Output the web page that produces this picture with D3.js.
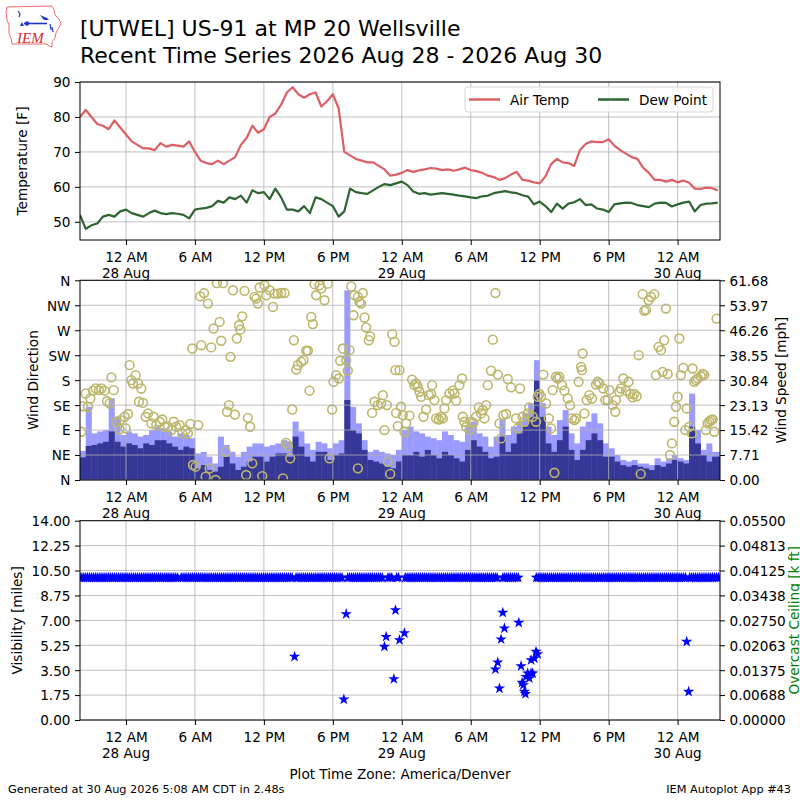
<!DOCTYPE html>
<html>
<head>
<meta charset="utf-8">
<script src="https://cdn.jsdelivr.net/npm/d3@7"></script>
<style>
  body { margin: 0; background: #fff; }
  svg { font-family: "DejaVu Sans", sans-serif; }
</style>
</head>
<body>
<svg id="chart" width="800" height="800"></svg>
<script>
// time is in hours after 27 Aug 2026 8:00 PM (America/Denver)
const spanHours = 55.69;
const obsStep = 0.5;

const tickHours = [4, 10, 16, 22, 28, 34, 40, 46, 52];
const tickLabels = ["12 AM", "6 AM", "12 PM", "6 PM", "12 AM", "6 AM", "12 PM", "6 PM", "12 AM"];
const dateHours = [4, 28, 52];
const dateLabels = ["28 Aug", "29 Aug", "30 Aug"];

// half-hourly temperatures [F]
const airTemp = [80, 82, 80, 78, 77.5, 76.5, 79, 77, 75, 73,
  72, 71, 71, 70.5, 72.5, 71.5, 72, 71.8, 71.5, 73,
  70, 67.5, 66.8, 66.5, 67.5, 66.5, 67.5, 68.5, 72, 74,
  77.5, 75.5, 76.5, 80, 81, 83.5, 87, 88.5, 86.5, 85.5,
  86.5, 87, 83, 84.5, 86.5, 82.5, 70, 69, 68, 67.5,
  67, 67, 66, 65, 63.2, 63.5, 64, 64.8, 64.3, 64.7,
  65, 65.4, 65.2, 64.8, 65, 64.6, 65, 65.5, 64.8, 64.5,
  64, 63.2, 62.8, 62, 62.5, 63.5, 64.3, 62, 61.8, 61.3,
  61, 63, 66.5, 68, 67, 66.8, 66, 70.5, 72.3, 73,
  72.8, 72.8, 73.6, 71.8, 70.5, 69.5, 68.5, 68, 65.5, 64,
  62, 62, 61.5, 62, 61.3, 61.8, 61.2, 59.5, 59.4, 59.8,
  59.6, 59];
const dewPoint = [52, 48, 49, 49.5, 51.5, 52, 51.5, 53, 53.5, 52.5,
  52, 51.5, 52.5, 53.2, 52.5, 52.2, 52.5, 52.3, 52, 51,
  53.5, 53.8, 54, 54.5, 56, 55.5, 57, 56.5, 57.5, 55.5,
  59, 58.2, 58.5, 56.5, 59.5, 57, 53.5, 53.5, 53, 54.5,
  52.5, 57, 56.5, 55.5, 54.5, 51.5, 53, 59.5, 58.5, 58.2,
  58, 59, 60, 60.8, 60.5, 61, 61.5, 60.5, 58.7, 58,
  58.2, 57.8, 58, 58.2, 58, 57.8, 57.5, 57.3, 57, 56.8,
  57.3, 57.5, 58.2, 58.5, 58.8, 58.4, 58.2, 57.6, 57.2, 55,
  55.8, 54.5, 52.8, 55.2, 53.8, 55.2, 55.6, 56.5, 54.8, 55,
  53.8, 53.5, 52.8, 55, 55.3, 55.5, 55.4, 54.8, 54.5, 54.2,
  55.2, 55.5, 55.4, 54.4, 55, 55.5, 55.8, 53, 54.8, 55.2,
  55.3, 55.5];

// half-hourly wind speed and gust [mph]
const windSpeed = [7, 10.5, 10.8, 11.3, 11.8, 15, 11.8, 10.3, 11.3, 10.8,
  9.8, 11.3, 10.8, 12.3, 12.3, 11.3, 10.3, 9.3, 10.3, 9.8,
  3.6, 4.6, 3.1, 2.6, 4.1, 7.2, 5.1, 3.1, 4.1, 5.7,
  7.2, 7.2, 5.7, 7.2, 8.2, 8.2, 7.2, 13.4, 10.3, 7.2,
  5.7, 8.7, 8.7, 6.2, 7.7, 8.2, 24.7, 15.4, 14.4, 9.3,
  6.2, 5.7, 5.1, 4.1, 3.6, 5.7, 7.7, 7.7, 8.7, 7.2,
  9.3, 7.7, 6.7, 8.7, 7.7, 6.7, 5.7, 9.3, 12.3, 10.3,
  8.7, 6.7, 7.2, 13.4, 8.7, 11.3, 14.4, 16.5, 19.5, 30.9,
  19.5, 11.3, 8.7, 12.3, 16.5, 9.3, 6.2, 9.3, 12.3, 14.4,
  12.3, 7.2, 7.2, 5.7, 4.6, 4.1, 4.6, 4.1, 3.6, 3.1,
  4.6, 4.1, 5.1, 6.2, 5.7, 5.1, 16.5, 11.3, 7.7, 5.7,
  7.2, 7.2];
const windGust = [9, 22.6, 14.4, 15, 15.4, 25.2, 19.5, 13.9, 15, 14.4,
  13.4, 13.9, 15.4, 16.5, 16, 15, 13.4, 14.4, 13.9, 12.9,
  8.2, 8.7, 7.2, 5.1, 13.4, 10.8, 8.7, 7.2, 8.7, 10.3,
  11.3, 11.3, 10.3, 10.8, 11.3, 12.3, 11.8, 18, 15, 11.3,
  9.3, 11.8, 11.3, 9.8, 11.3, 12.3, 58.6, 22.6, 17.5, 12.3,
  8.7, 9.3, 8.7, 8.2, 7.7, 9.3, 15.4, 16.5, 15, 14.4,
  13.4, 12.9, 12.3, 15, 13.9, 12.3, 11.8, 16.5, 18, 14.4,
  13.4, 10.3, 13.4, 18.5, 13.9, 16.5, 18, 20.6, 23.7, 37,
  23.7, 16.5, 13.9, 18.5, 21.6, 14.4, 11.3, 16.5, 18, 20.6,
  17.5, 11.3, 9.8, 7.7, 6.2, 5.7, 6.2, 5.1, 5.1, 4.6,
  6.7, 5.7, 6.7, 7.7, 6.7, 6.2, 26.7, 15.4, 9.3, 11.3,
  8.7, 8.7];

// wind direction observations: hour, degrees
const dirHours = [0.12, 0.26, 0.5, 0.7, 0.9, 1.13, 1.37, 1.65, 1.86, 2.15,
  2.35, 2.58, 2.73, 2.93, 3.16, 3.45, 3.51, 3.89, 4.18, 3.97,
  4.32, 4.47, 4.61, 4.84, 5.05, 5.33, 5.13, 5.48, 5.71, 5.92,
  6.21, 6.41, 6.64, 6.93, 7.16, 7.36, 7.65, 7.94, 8.15, 8.38,
  8.67, 8.9, 9.19, 9.39, 9.6, 9.83, 10.06, 10.29, 9.77, 10.55,
  10.47, 10.79, 11.13, 10.93, 11.28, 11.8, 11.42, 11.62, 11.91, 12.15,
  12.29, 12.44, 12.67, 12.96, 12.79, 13.1, 13.31, 13.48, 13.65, 13.83,
  13.95, 14.12, 14.32, 14.46, 14.61, 14.81, 14.99, 15.19, 15.34, 15.48,
  15.63, 15.86, 16.06, 16.2, 16.5, 16.79, 16.93, 17.22, 17.51, 17.8,
  17.66, 17.94, 18.09, 18.29, 18.47, 18.61, 18.82, 18.96, 19.25, 19.45,
  19.68, 19.83, 19.97, 20.12, 20.26, 20.41, 20.55, 20.84, 20.99, 21.28,
  21.57, 21.71, 21.94, 22.06, 22.29, 22.52, 22.64, 22.87, 23.16, 23.3,
  23.45, 23.6, 23.8, 23.89, 24.18, 24.32, 24.61, 24.46, 24.18, 24.76,
  24.9, 25.13, 25.25, 25.42, 25.63, 25.92, 26.2, 26.35, 26.49, 26.7,
  26.78, 26.99, 27.16, 27.37, 27.45, 27.51, 27.65,
  27.8, 27.94, 28.09, 28.23, 28.38, 28.67, 28.9, 29.1, 29.25, 29.39,
  29.54, 29.68, 29.89, 30.12, 30.35, 30.55, 30.64, 30.84, 30.99, 31.22,
  31.42, 31.57, 31.71, 31.86, 32.15, 32.44, 32.58, 32.73, 33.02, 33.25,
  33.31, 33.45, 33.6, 33.89, 34.03, 34.23, 34.47, 34.7, 34.9, 35.05,
  35.19, 35.34, 35.48, 35.77, 35.92, 36.15, 36.35, 36.5, 36.64, 36.84,
  37.08, 37.22, 37.51, 37.94, 38.09, 38.29, 38.52, 38.67, 38.96, 39.1,
  39.39, 39.68, 39.83, 39.97, 40.12, 40.32, 40.55, 40.79, 40.99, 41.13,
  41.28, 41.42, 41.57, 41.71, 41.94, 42.15, 42.44, 42.64, 42.81, 43.02,
  43.16, 43.39, 43.6, 43.68, 43.74, 43.89, 44.09, 44.32, 44.55, 44.9,
  45.05, 45.19, 45.54, 45.71, 45.92, 46.06, 46.35, 46.58, 46.64, 46.93,
  47.07, 47.28, 47.51, 47.74, 47.86, 48.09, 48.23, 48.44, 48.61, 48.79,
  48.96, 49.1, 49.25, 49.48, 49.68, 49.97, 50.12, 50.35, 50.55, 50.7,
  50.84, 50.99, 51.13, 51.34, 51.51, 51.71, 51.86, 52.0, 52.15, 52.29,
  52.5, 52.67, 52.79, 53.02, 53.25, 53.31, 53.45, 53.6, 53.74, 54.03,
  54.18, 54.32, 54.47, 54.61, 54.76, 54.9, 55.05, 55.19, 55.39];
const dirDeg = [87, 133, 156, 132, 147, 161, 165, 162, 165, 161,
  142, 138, 185, 162, 105, 91, 108, 114, 119, 93,
  207, 180, 174, 189, 174, 165, 141, 139, 114, 120,
  102, 114, 99, 105, 109, 96, 96, 90, 105, 96,
  99, 84, 90, 84, 101, 27, 24, 99, 237, 243,
  331, 337, 318, 6, 21, 0, 239, 273, 355, 285,
  251, 355, 51, 135, 123, 222, 342, 118, 255, 279,
  271, 295, 341, 9, 112, 96, 30, 330, 327, 318,
  347, 7, 351, 333, 342, 312, 336, 336, 337, 337,
  3, 67, 61, 39, 127, 252, 199, 207, 213, 216,
  233, 233, 161, 294, 281, 353, 333, 351, 345, 324,
  354, 39, 127, 177, 189, 183, 215, 237, 216, 197,
  234, 349, 297, 333, 330, 321, 337, 318, 21, 293,
  275, 252, 259, 121, 141, 135, 138, 153, 90, 135,
  33, 11, 263, 249, 198, 121, 97,
  198, 132, 117, 87, 102, 116, 181, 171, 174, 168,
  159, 150, 114, 127, 153, 155, 171, 144, 111, 109,
  114, 111, 129, 144, 156, 161, 156, 143, 171, 183,
  114, 105, 96, 90, 105, 103, 114, 131, 120, 126,
  111, 135, 171, 197, 253, 337, 190, 102, 75, 117,
  119, 182, 167, 111, 93, 165, 114, 105, 120, 131,
  114, 105, 150, 155, 150, 190, 138, 111, 93, 162,
  13, 186, 183, 186, 171, 161, 147, 135, 111, 108,
  111, 177, 204, 198, 228, 120, 144, 153, 147, 172,
  177, 174, 165, 144, 144, 162, 135, 123, 144, 159,
  165, 183, 161, 177, 155, 149, 155, 151, 225, 11,
  335, 305, 307, 324, 330, 335, 189, 240, 234, 195,
  252, 309, 191, 45, 66, 105, 132, 150, 255, 189,
  202, 90, 129, 96, 84, 201, 177, 180, 183, 187,
  191, 189, 90, 102, 105, 108, 109, 87, 291];

// visibility: periods reporting 10 miles, plus the lower reports
const visTenSpans = [[0, 8.6], [8.8, 18.6], [18.8, 22.9], [23.3, 26.4], [26.8, 27.25],
  [27.55, 27.75], [28.3, 36.3], [36.8, 38.15], [39.7, 52.75], [53.05, 55.67]];
const visHours = [18.67, 23.16, 22.96, 26.64, 26.49, 27.45, 27.31, 27.8, 28.23,
  36.79, 36.93, 36.64, 36.35, 36.15, 36.5, 38.18, 38.38, 38.47, 38.58,
  38.67, 38.76, 38.81, 39.1, 38.96, 39.25, 39.39, 39.25, 39.54, 39.68,
  39.83, 52.79, 52.96];
const visMiles = [4.45, 7.44, 1.45, 5.85, 5.15, 7.72, 2.88, 5.62, 6.1,
  7.54, 6.44, 5.67, 4.05, 3.56, 2.22, 6.84, 3.79, 2.62, 2.46,
  1.99, 1.83, 3.04, 2.93, 3.28, 3.28, 3.28, 4.21, 4.33, 4.8,
  4.63, 5.5, 1.99];

const dirTicks = [0, 45, 90, 135, 180, 225, 270, 315, 360];
const dirTickLabels = ["N", "NE", "E", "SE", "S", "SW", "W", "NW", "N"];
const speedTicks = [0, 7.71, 15.42, 23.13, 30.84, 38.55, 46.26, 53.97, 61.68];
const visTicks = [0, 1.75, 3.5, 5.25, 7, 8.75, 10.5, 12.25, 14];
const ceilTicks = [0, 0.00688, 0.01375, 0.02063, 0.0275, 0.03438, 0.04125, 0.04813, 0.055];

const svg = d3.select("#chart");
const fontSize = 13.6;
const L = 80, R = 720;
const x = d3.scaleLinear().domain([0, spanHours]).range([L, R]);
const gridColor = "#b0b0b0";

const p1 = { top: 82, bottom: 240 };
const p2 = { top: 280.3, bottom: 480 };
const p3 = { top: 520.7, bottom: 720 };

const yTemp = d3.scaleLinear().domain([44.8, 90]).range([p1.bottom, p1.top]);
const yDir = d3.scaleLinear().domain([0, 360]).range([p2.bottom, p2.top]);
const ySpeed = d3.scaleLinear().domain([0, 61.68]).range([p2.bottom, p2.top]);
const yVis = d3.scaleLinear().domain([0, 14]).range([p3.bottom, p3.top]);
const yCeil = d3.scaleLinear().domain([0, 0.055]).range([p3.bottom, p3.top]);

// clip paths
const defs = svg.append("defs");
[p1, p2, p3].forEach((p, i) => {
  defs.append("clipPath").attr("id", "clip" + i)
    .append("rect").attr("x", L).attr("y", p.top)
    .attr("width", R - L).attr("height", p.bottom - p.top);
});

function grid(p, yScale, yVals) {
  const g = svg.append("g").attr("stroke", gridColor).attr("stroke-width", 0.8);
  g.selectAll(".gx").data(tickHours).enter().append("line")
    .attr("x1", d => x(d)).attr("x2", d => x(d))
    .attr("y1", p.top).attr("y2", p.bottom);
  g.selectAll(".gy").data(yVals).enter().append("line")
    .attr("x1", L).attr("x2", R)
    .attr("y1", d => yScale(d)).attr("y2", d => yScale(d));
}

function styleAxis(g) {
  g.attr("font-family", null).attr("font-size", null)
    .style("font-size", fontSize + "px");
  g.select(".domain").remove();
  g.selectAll("line").attr("stroke", "#000");
  g.selectAll("text").attr("fill", "#000");
}

function xAxis(p) {
  const g = svg.append("g").attr("transform", `translate(0,${p.bottom})`)
    .call(d3.axisBottom(x).tickValues(tickHours).tickSize(5)
      .tickFormat((d, i) => tickLabels[i]));
  styleAxis(g);
  g.selectAll("text").attr("y", 22).attr("dy", null);
  g.selectAll(".dlab").data(dateHours).enter().append("text")
    .attr("x", d => x(d)).attr("y", 38).attr("text-anchor", "middle")
    .attr("fill", "#000").text((d, i) => dateLabels[i]);
}

function yAxisLeft(scale, vals, fmt) {
  const g = svg.append("g").attr("transform", `translate(${L},0)`)
    .call(d3.axisLeft(scale).tickValues(vals).tickSize(5).tickPadding(4.5).tickFormat(fmt));
  styleAxis(g);
  g.selectAll("text").attr("dy", "0.36em");
}

function yAxisRight(scale, vals, fmt) {
  const g = svg.append("g").attr("transform", `translate(${R},0)`)
    .call(d3.axisRight(scale).tickValues(vals).tickSize(5).tickPadding(4.5).tickFormat(fmt));
  styleAxis(g);
  g.selectAll("text").attr("dy", "0.36em");
}

function frame(p) {
  svg.append("rect").attr("x", L).attr("y", p.top)
    .attr("width", R - L).attr("height", p.bottom - p.top)
    .attr("fill", "none").attr("stroke", "#000").attr("stroke-width", 1);
}

function yLabel(text, cx, cy, color) {
  svg.append("text").attr("transform", `translate(${cx},${cy}) rotate(-90)`)
    .attr("text-anchor", "middle").style("font-size", fontSize + "px")
    .attr("fill", color || "#000").text(text);
}

// ---------- panel 1: temperatures ----------
grid(p1, yTemp, [50, 60, 70, 80, 90]);
const tempLine = d3.line().x((d, i) => x(i * obsStep)).y(d => yTemp(d));
const g1 = svg.append("g").attr("clip-path", "url(#clip0)");
g1.append("path").datum(airTemp).attr("d", tempLine)
  .attr("fill", "none").attr("stroke", "#dc5f64").attr("stroke-width", 2.2)
  .attr("stroke-linejoin", "round");
g1.append("path").datum(dewPoint).attr("d", tempLine)
  .attr("fill", "none").attr("stroke", "#2f6432").attr("stroke-width", 2.2)
  .attr("stroke-linejoin", "round");
frame(p1);
yAxisLeft(yTemp, [50, 60, 70, 80, 90], d3.format("d"));
xAxis(p1);
yLabel("Temperature [F]", 26.5, (p1.top + p1.bottom) / 2);

// legend
const leg = svg.append("g");
leg.append("rect").attr("x", 465).attr("y", 87).attr("width", 248).attr("height", 25)
  .attr("rx", 3).attr("fill", "#fff").attr("fill-opacity", 0.8)
  .attr("stroke", "#d6d6d6");
const legItems = [["Air Temp", "#dc5f64", 469], ["Dew Point", "#2f6432", 598]];
legItems.forEach(([name, color, lx]) => {
  leg.append("line").attr("x1", lx).attr("x2", lx + 31).attr("y1", 99.5).attr("y2", 99.5)
    .attr("stroke", color).attr("stroke-width", 2.5);
  leg.append("text").attr("x", lx + 41).attr("y", 104.5)
    .style("font-size", fontSize + "px").text(name);
});

// ---------- panel 2: wind ----------
const g2 = svg.append("g").attr("clip-path", "url(#clip1)");
const barW = x(obsStep) - x(0);
g2.selectAll(".gust").data(windGust).enter().append("rect")
  .attr("x", (d, i) => x(i * obsStep)).attr("width", barW + 0.3)
  .attr("y", d => ySpeed(d)).attr("height", d => p2.bottom - ySpeed(d))
  .attr("fill", "#9a9aff");
g2.selectAll(".speed").data(windSpeed).enter().append("rect")
  .attr("x", (d, i) => x(i * obsStep)).attr("width", barW + 0.3)
  .attr("y", d => ySpeed(d)).attr("height", d => p2.bottom - ySpeed(d))
  .attr("fill", "#373797");
grid(p2, yDir, dirTicks);
g2.selectAll(".dir").data(dirDeg).enter().append("circle")
  .attr("cx", (d, i) => x(dirHours[i])).attr("cy", d => yDir(d)).attr("r", 4.4)
  .attr("fill", "none").attr("stroke", "#bdb76b").attr("stroke-width", 1.6);
frame(p2);
yAxisLeft(yDir, dirTicks, (d, i) => dirTickLabels[i]);
yAxisRight(ySpeed, speedTicks, d3.format(".2f"));
xAxis(p2);
yLabel("Wind Direction", 38, (p2.top + p2.bottom) / 2);
yLabel("Wind Speed [mph]", 786, (p2.top + p2.bottom) / 2);

// ---------- panel 3: visibility ----------
grid(p3, yVis, visTicks);
const star = d3.symbol().type(d3.symbolStar).size(40);
const g3 = svg.append("g").attr("clip-path", "url(#clip2)");
const tenObs = [];
visTenSpans.forEach(([a, b]) => {
  for (let t = a; t <= b + 1e-6; t += 1 / 6) tenObs.push(t);
});
g3.selectAll(".ten").data(tenObs).enter().append("path")
  .attr("d", star).attr("transform", d => `translate(${x(d)},${yVis(10)})`)
  .attr("fill", "#0000ff");
g3.selectAll(".low").data(visMiles).enter().append("path")
  .attr("d", star).attr("transform", (d, i) => `translate(${x(visHours[i])},${yVis(d)})`)
  .attr("fill", "#0000ff");
frame(p3);
yAxisLeft(yVis, visTicks, d3.format(".2f"));
yAxisRight(yCeil, ceilTicks, d3.format(".5f"));
xAxis(p3);
yLabel("Visibility [miles]", 21.5, (p3.top + p3.bottom) / 2);
yLabel("Overcast Ceiling [k ft]", 798.5, (p3.top + p3.bottom) / 2, "#008000");

svg.append("text").attr("x", 400).attr("y", 779).attr("text-anchor", "middle")
  .style("font-size", fontSize + "px").text("Plot Time Zone: America/Denver");

// ---------- titles and footer ----------
svg.append("text").attr("x", 80).attr("y", 36).style("font-size", "22px")
  .text("[UTWEL] US-91 at MP 20 Wellsville");
svg.append("text").attr("x", 80).attr("y", 63).style("font-size", "22px")
  .text("Recent Time Series 2026 Aug 28 - 2026 Aug 30");
svg.append("text").attr("x", 8).attr("y", 793).style("font-size", "11.3px")
  .text("Generated at 30 Aug 2026 5:08 AM CDT in 2.48s");
svg.append("text").attr("x", 791).attr("y", 793).attr("text-anchor", "end")
  .style("font-size", "11.3px").text("IEM Autoplot App #43");

// IEM logo
const logo = svg.append("g");
logo.append("path")
  .attr("d", "M7,7 L52,6 L54,10 L55,15 L59,19 L61,24 L58,29 L56,33 L55,38 L52,42 L52,47 L49,46 L47,44 L12,44 L11,38 L9,33 L9,25 L7,20 L6,12 Z")
  .attr("fill", "none").attr("stroke", "#e8454a").attr("stroke-width", 0.8);
logo.append("line").attr("x1", 24).attr("x2", 47).attr("y1", 23.5).attr("y2", 23.5)
  .attr("stroke", "#1f35c8").attr("stroke-width", 1.6);
logo.append("circle").attr("cx", 27).attr("cy", 23.5).attr("r", 2.2).attr("fill", "#1f35c8");
logo.append("path").attr("d", "M40,15 L47,18 L49,20 L44,20 Z").attr("fill", "#1f35c8");
logo.append("path").attr("d", "M18,11 L20,14 L19,17").attr("fill", "none")
  .attr("stroke", "#1f35c8").attr("stroke-width", 1.2);
logo.append("path").attr("d", "M20,26 L22,22 L24,26 Z").attr("fill", "#1f35c8");
logo.append("path").attr("d", "M50,24 L51,30 M52,27 L53,32").attr("stroke", "#1f35c8")
  .attr("stroke-width", 1.2);
logo.append("text").attr("x", 17).attr("y", 43).attr("fill", "#d42a2a")
  .style("font-family", "'Liberation Serif', serif").style("font-style", "italic")
  .style("font-size", "15px").text("IEM");
</script>
</body>
</html>
